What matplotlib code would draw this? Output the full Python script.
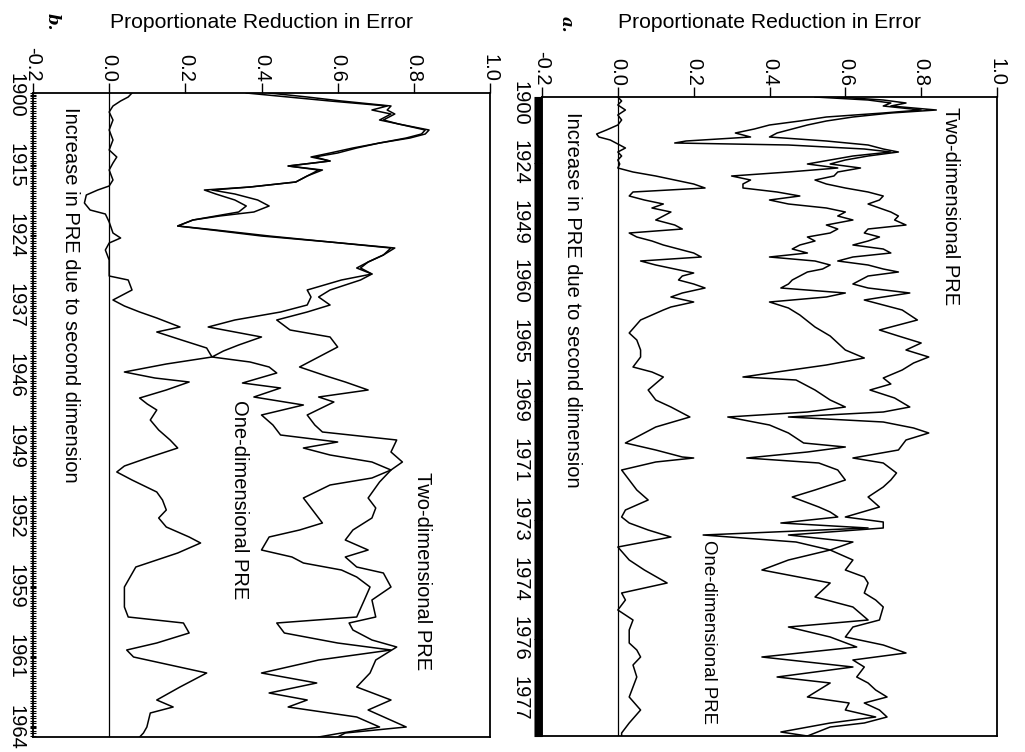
import numpy as np
import matplotlib
matplotlib.use("Agg")
import matplotlib.pyplot as plt
from matplotlib.ticker import MultipleLocator
from matplotlib.transforms import blended_transform_factory

plt.rcParams['font.family'] = ['Liberation Sans', 'DejaVu Sans']

# ---------------- data: panel a (roll-call window index vs PRE) ----------------
a_years = ["1900", "1924", "1949", "1960", "1965", "1969", "1971", "1973", "1974", "1976", "1977"]
a_n_obs = 639
a_year_pos = np.linspace(6, 601, len(a_years))

a_two_pos = [0, 3, 6, 9, 13, 16, 20, 24, 28, 32, 36, 40, 44, 48, 52, 55, 59, 63, 67, 71, 75, 79, 83, 87, 91, 95,
             99, 103, 107, 111, 115, 119, 123, 128, 132, 136, 140, 144, 148, 152, 156, 160, 164, 168, 172, 175,
             179, 183, 187, 191, 196, 200, 203, 208, 213, 223, 233, 239, 246, 253, 260, 266, 273, 281, 287, 293,
             301, 310, 315, 320, 325, 331, 336, 343, 353, 361, 366, 376, 383, 390, 400, 410, 420, 425, 431, 438,
             445, 453, 463, 473, 480, 486, 496, 503, 510, 523, 530, 540, 548, 556, 563, 570, 580, 586, 593, 600,
             606, 613, 620, 626, 630, 636, 639]
a_two_val = [0.58, 0.70, 0.76, 0.72, 0.84, 0.72, 0.62, 0.55, 0.50, 0.46, 0.42, 0.40, 0.55, 0.66, 0.70, 0.74, 0.66,
             0.60, 0.56, 0.64, 0.58, 0.57, 0.52, 0.55, 0.60, 0.66, 0.70, 0.69, 0.66, 0.69, 0.72, 0.74, 0.73, 0.76,
             0.66, 0.65, 0.69, 0.66, 0.62, 0.70, 0.72, 0.62, 0.58, 0.66, 0.70, 0.74, 0.66, 0.64, 0.62, 0.66, 0.77,
             0.70, 0.65, 0.70, 0.75, 0.79, 0.69, 0.74, 0.80, 0.76, 0.82, 0.78, 0.75, 0.70, 0.72, 0.665, 0.73, 0.77,
             0.70, 0.45, 0.70, 0.78, 0.82, 0.76, 0.74, 0.62, 0.70, 0.735, 0.72, 0.70, 0.66, 0.69, 0.60, 0.70, 0.70,
             0.45, 0.62, 0.56, 0.62, 0.60, 0.65, 0.66, 0.65, 0.68, 0.70, 0.69, 0.62, 0.60, 0.70, 0.76, 0.62, 0.65,
             0.63, 0.66, 0.68, 0.71, 0.65, 0.69, 0.71, 0.65, 0.56, 0.52, 0.50]

a_one_pos = [0, 3, 6, 9, 13, 16, 20, 24, 28, 32, 36, 40, 44, 46, 48, 52, 55, 59, 63, 67, 71, 75, 79, 83, 87, 91,
             95, 99, 103, 107, 111, 115, 119, 123, 128, 132, 136, 140, 144, 148, 152, 156, 160, 164, 168, 172, 175,
             179, 183, 187, 191, 196, 200, 205, 211, 218, 230, 239, 253, 261, 268, 275, 280, 283, 293, 303, 310,
             315, 320, 328, 336, 346, 350, 355, 361, 366, 373, 383, 393, 400, 410, 415, 420, 426, 431, 438, 445,
             453, 463, 473, 486, 500, 510, 523, 530, 540, 550, 560, 570, 580, 586, 600, 606, 613, 620, 626, 635,
             639]
a_one_val = [0.52, 0.66, 0.72, 0.70, 0.80, 0.70, 0.55, 0.48, 0.40, 0.36, 0.31, 0.35, 0.18, 0.15, 0.45, 0.65, 0.72,
             0.62, 0.56, 0.50, 0.58, 0.45, 0.30, 0.35, 0.33, 0.33, 0.42, 0.48, 0.40, 0.45, 0.55, 0.60, 0.58, 0.62,
             0.55, 0.58, 0.56, 0.50, 0.52, 0.48, 0.46, 0.50, 0.40, 0.52, 0.56, 0.54, 0.50, 0.48, 0.46, 0.45, 0.43,
             0.60, 0.55, 0.40, 0.45, 0.48, 0.52, 0.56, 0.60, 0.65, 0.55, 0.42, 0.33, 0.47, 0.52, 0.56, 0.60, 0.50,
             0.29, 0.40, 0.45, 0.49, 0.60, 0.50, 0.34, 0.53, 0.58, 0.60, 0.52, 0.46, 0.53, 0.56, 0.58, 0.43, 0.66,
             0.225, 0.47, 0.56, 0.45, 0.38, 0.56, 0.52, 0.62, 0.66, 0.45, 0.56, 0.63, 0.38, 0.62, 0.42, 0.56, 0.50,
             0.61, 0.60, 0.68, 0.56, 0.43, 0.50]

a_inc_pos = [0, 4, 8, 13, 18, 23, 28, 33, 37, 40, 43, 47, 51, 55, 59, 63, 67, 71, 75, 79, 83, 87, 91, 95, 99,
             103, 107, 111, 115, 119, 123, 128, 132, 136, 140, 144, 148, 152, 156, 160, 164, 168, 172, 176, 179,
             183, 187, 191, 196, 200, 205, 210, 213, 223, 236, 243, 253, 260, 270, 275, 280, 293, 303, 310, 320,
             330, 338, 346, 353, 360, 361, 365, 373, 383, 393, 403, 413, 420, 426, 433, 440, 450, 463, 473, 486,
             496, 503, 513, 523, 533, 546, 553, 560, 568, 580, 590, 600, 613, 626, 636, 639]
a_inc_val = [0.0, 0.01, 0.00, 0.02, 0.00, 0.01, 0.00, -0.03, -0.056, -0.05, -0.02, 0.00, 0.02, 0.00, 0.01, 0.00,
             0.005, 0.00, 0.04, 0.10, 0.15, 0.20, 0.23, 0.04, 0.03, 0.07, 0.12, 0.09, 0.14, 0.12, 0.10, 0.15, 0.17,
             0.03, 0.05, 0.09, 0.12, 0.16, 0.20, 0.22, 0.06, 0.10, 0.15, 0.20, 0.17, 0.16, 0.20, 0.23, 0.17, 0.14,
             0.20, 0.14, 0.12, 0.06, 0.03, 0.05, 0.06, 0.06, 0.04, 0.09, 0.12, 0.08, 0.10, 0.14, 0.19, 0.10, 0.06,
             0.02, 0.10, 0.17, 0.20, 0.10, 0.01, 0.03, 0.05, 0.08, 0.02, 0.01, 0.03, 0.08, 0.14, 0.00, 0.03, 0.07,
             0.13, 0.01, 0.02, 0.00, 0.04, 0.03, 0.03, 0.05, 0.06, 0.04, 0.05, 0.04, 0.03, 0.06, 0.03, 0.01, 0.01]

# ---------------- data: panel b ----------------
b_years = ["1900", "1915", "1924", "1937", "1946", "1949", "1952", "1959", "1961", "1964"]
b_n_obs = 644
b_year_pos = np.linspace(2, 634, len(b_years))

b_two_pos = [0, 4, 8, 13, 17, 21, 27, 31, 37, 41, 45, 50, 55, 60, 64, 68, 73, 77, 83, 89, 94, 97, 101, 107, 113,
             119, 123, 127, 133, 137, 143, 149, 155, 162, 169, 175, 181, 187, 197, 204, 212, 219, 227, 237, 244,
             254, 262, 274, 283, 289, 297, 304, 309, 322, 332, 339, 347, 359, 369, 377, 389, 405, 415, 425, 437,
             447, 457, 464, 474, 480, 494, 507, 524, 530, 537, 547, 554, 567, 580, 594, 607, 617, 634, 640, 644]
b_two_val = [0.42, 0.52, 0.61, 0.74, 0.73, 0.75, 0.72, 0.76, 0.84, 0.83, 0.79, 0.71, 0.65, 0.60, 0.54, 0.58, 0.47,
             0.56, 0.52, 0.49, 0.37, 0.25, 0.28, 0.33, 0.36, 0.34, 0.28, 0.22, 0.18, 0.28, 0.42, 0.58, 0.74, 0.72,
             0.68, 0.66, 0.69, 0.66, 0.58, 0.55, 0.58, 0.52, 0.44, 0.475, 0.58, 0.60, 0.56, 0.50, 0.57, 0.62, 0.68,
             0.55, 0.59, 0.52, 0.54, 0.56, 0.755, 0.74, 0.77, 0.74, 0.71, 0.68, 0.70, 0.69, 0.64, 0.62, 0.68, 0.62,
             0.65, 0.72, 0.74, 0.69, 0.70, 0.63, 0.64, 0.69, 0.755, 0.70, 0.685, 0.65, 0.74, 0.68, 0.78, 0.62, 0.60]

b_one_pos = [0, 4, 8, 13, 17, 21, 27, 31, 37, 41, 45, 50, 55, 60, 64, 68, 73, 77, 83, 89, 94, 97, 101, 107, 113,
             119, 123, 127, 133, 137, 143, 149, 155, 162, 169, 175, 181, 187, 197, 204, 212, 219, 227, 234, 239,
             244, 252, 258, 264, 269, 274, 280, 290, 295, 304, 312, 322, 332, 342, 349, 355, 362, 369, 377, 385,
             392, 405, 415, 425, 430, 437, 444, 457, 464, 470, 477, 484, 494, 507, 524, 530, 540, 550, 557, 567,
             580, 590, 600, 607, 614, 624, 634, 640, 644]
b_one_val = [0.36, 0.47, 0.58, 0.73, 0.69, 0.74, 0.71, 0.76, 0.83, 0.82, 0.78, 0.71, 0.64, 0.58, 0.53, 0.58, 0.47,
             0.55, 0.52, 0.49, 0.37, 0.27, 0.33, 0.39, 0.42, 0.38, 0.29, 0.22, 0.18, 0.27, 0.40, 0.58, 0.75, 0.72,
             0.68, 0.65, 0.69, 0.61, 0.52, 0.53, 0.52, 0.45, 0.33, 0.26, 0.33, 0.40, 0.34, 0.30, 0.27, 0.37, 0.42,
             0.44, 0.35, 0.45, 0.38, 0.51, 0.40, 0.43, 0.45, 0.60, 0.51, 0.58, 0.69, 0.74, 0.69, 0.58, 0.51, 0.53,
             0.55, 0.56, 0.50, 0.42, 0.40, 0.48, 0.51, 0.61, 0.65, 0.685, 0.67, 0.65, 0.44, 0.46, 0.60, 0.74, 0.55,
             0.40, 0.545, 0.42, 0.52, 0.47, 0.65, 0.71, 0.61, 0.55]

b_inc_pos = [0, 4, 8, 13, 19, 27, 37, 47, 57, 64, 70, 77, 87, 93, 97, 102, 110, 117, 121, 129, 140, 145, 150,
             157, 167, 177, 183, 187, 197, 203, 207, 213, 219, 225, 234, 239, 247, 255, 264, 271, 279, 285, 289,
             297, 305, 311, 317, 327, 337, 347, 355, 365, 373, 379, 387, 399, 407, 417, 425, 434, 444, 450, 460,
             474, 494, 514, 524, 530, 540, 550, 557, 564, 580, 594, 607, 614, 620, 634, 640, 644]
b_inc_val = [0.06, 0.05, 0.03, 0.01, 0.00, 0.01, 0.00, 0.01, 0.00, 0.02, 0.01, 0.00, 0.01, 0.00, -0.03, -0.06,
             -0.065, -0.05, -0.01, 0.00, 0.01, 0.03, 0.00, -0.01, 0.00, 0.00, 0.00, 0.05, 0.06, 0.03, 0.01, 0.04,
             0.08, 0.125, 0.186, 0.125, 0.19, 0.256, 0.27, 0.15, 0.04, 0.12, 0.21, 0.15, 0.08, 0.10, 0.125, 0.108,
             0.13, 0.16, 0.18, 0.10, 0.04, 0.02, 0.06, 0.125, 0.14, 0.15, 0.13, 0.15, 0.21, 0.24, 0.18, 0.07, 0.04,
             0.04, 0.05, 0.195, 0.21, 0.125, 0.046, 0.064, 0.256, 0.186, 0.125, 0.168, 0.108, 0.099, 0.09, 0.08]

pre_ticks = [-0.2, 0.0, 0.2, 0.4, 0.6, 0.8, 1.0]
pre_labels = ["-0.2", "0.0", "0.2", "0.4", "0.6", "0.8", "1.0"]
axis_title = "Proportionate Reduction in Error"
lbl_two = "Two-dimensional PRE"
lbl_one = "One-dimensional PRE"
lbl_inc = "Increase in PRE due to second dimension"

W, H = 1025, 752
fig = plt.figure(figsize=(W / 100, H / 100), dpi=100)
fig.patch.set_facecolor("white")

axb = fig.add_axes([33 / W, 15 / H, 457 / W, 644 / H])
axa = fig.add_axes([542 / W, 16 / H, 455 / W, 639 / H])

FS = 14.5


def setup(ax, n_obs, year_pos, years, minor_step, ydir, ylen):
    ax.set_xlim(-0.2, 1.0)
    ax.set_ylim(n_obs, 0)
    ax.xaxis.tick_top()
    ax.set_xticks(pre_ticks)
    ax.set_xticklabels(pre_labels, rotation=-90, fontsize=FS)
    ax.tick_params(axis="x", direction="out", length=7, width=1.0, pad=1)
    ax.set_yticks(year_pos)
    ax.set_yticklabels(years, rotation=-90, va="center", fontsize=FS)
    ax.yaxis.set_minor_locator(MultipleLocator(minor_step))
    ax.tick_params(axis="y", which="both", direction=ydir, length=ylen, width=0.8, pad=3)
    for s in ax.spines.values():
        s.set_linewidth(1.3)
    ax.axvline(0.0, color="black", lw=0.9)
    tr = blended_transform_factory(ax.transAxes, fig.transFigure)
    ax.text(0.5, 1 - 22 / H, axis_title, transform=tr, ha="center", va="center", fontsize=15.2)


setup(axb, b_n_obs, b_year_pos, b_years, 2.5, "inout", 5)
setup(axa, a_n_obs, a_year_pos, a_years, 1.0, "out", 6)

for ax, pos_list, val_list in [
    (axb, [b_two_pos, b_one_pos, b_inc_pos], [b_two_val, b_one_val, b_inc_val]),
    (axa, [a_two_pos, a_one_pos, a_inc_pos], [a_two_val, a_one_val, a_inc_val]),
]:
    for p, v in zip(pos_list, val_list):
        ax.plot(v, p, color="black", lw=1.1)

# annotations (panel b)
axb.text(0.081, 0.978, lbl_inc, transform=axb.transAxes, rotation=-90, ha="center", va="top", fontsize=FS)
axb.text(0.451, 0.523, lbl_one, transform=axb.transAxes, rotation=-90, ha="center", va="top", fontsize=FS)
axb.text(0.853, 0.412, lbl_two, transform=axb.transAxes, rotation=-90, ha="center", va="top", fontsize=FS)
# annotations (panel a)
axa.text(0.897, 0.984, lbl_two, transform=axa.transAxes, rotation=-90, ha="center", va="top", fontsize=FS)
axa.text(0.068, 0.977, lbl_inc, transform=axa.transAxes, rotation=-90, ha="center", va="top", fontsize=FS)
axa.text(0.367, 0.306, lbl_one, transform=axa.transAxes, rotation=-90, ha="center", va="top", fontsize=13.4)

# panel letters
fig.text(52 / W, 1 - 22 / H, "b.", rotation=-90, ha="center", va="center", fontsize=12,
         fontstyle="italic", fontweight="bold", family="DejaVu Serif")
fig.text(566 / W, 1 - 24 / H, "a.", rotation=-90, ha="center", va="center", fontsize=12,
         fontstyle="italic", fontweight="bold", family="DejaVu Serif")

fig.savefig("out.png", dpi=100, facecolor="white")
